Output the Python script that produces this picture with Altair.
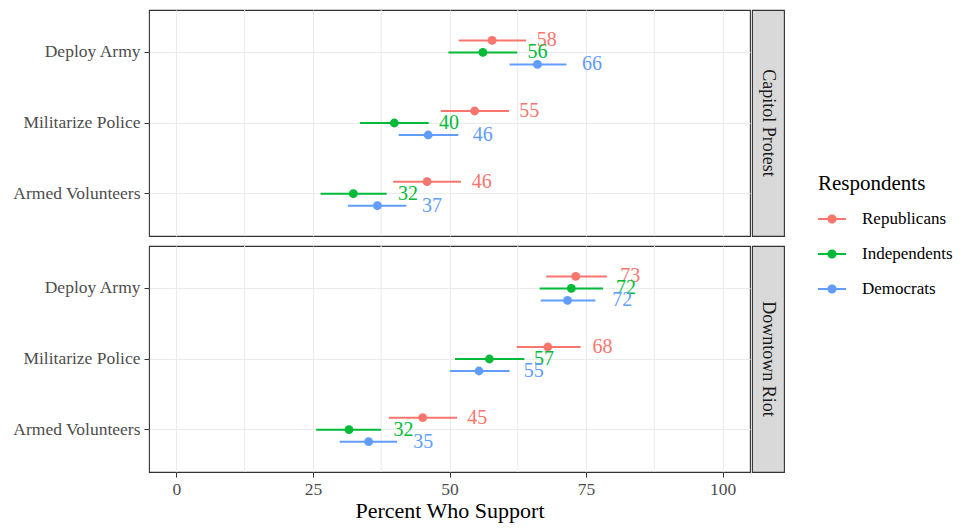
import altair as alt
import pandas as pd

FONT = "Liberation Serif"

items = ["Deploy Army", "Militarize Police", "Armed Volunteers"]
groups = ["Republicans", "Independents", "Democrats"]
colors = ["#F8766D", "#00BA38", "#619CFF"]
scenarios = ["Capitol Protest", "Downtown Riot"]

# Capitol Protest
cp_rep_est = [57.8, 54.6, 45.9]
cp_rep_lo = [51.7, 48.4, 39.7]
cp_rep_hi = [64.0, 60.9, 52.1]
cp_ind_est = [56.1, 39.9, 32.4]
cp_ind_lo = [49.8, 33.6, 26.4]
cp_ind_hi = [62.4, 46.2, 38.5]
cp_dem_est = [66.1, 46.1, 36.8]
cp_dem_lo = [61.0, 40.7, 31.4]
cp_dem_hi = [71.4, 51.6, 42.1]

# Downtown Riot
dr_rep_est = [73.1, 68.0, 45.1]
dr_rep_lo = [67.7, 62.3, 38.9]
dr_rep_hi = [78.8, 74.0, 51.4]
dr_ind_est = [72.3, 57.3, 31.6]
dr_ind_lo = [66.5, 51.0, 25.6]
dr_ind_hi = [78.1, 63.7, 37.5]
dr_dem_est = [71.6, 55.4, 35.2]
dr_dem_lo = [66.7, 50.1, 29.9]
dr_dem_hi = [76.7, 61.0, 40.4]

major_ticks = [0, 25, 50, 75, 100]
minor_ticks = [12.5, 37.5, 62.5, 87.5]
label_nudge = 10

series = {
    "Capitol Protest": {
        "Republicans": (cp_rep_est, cp_rep_lo, cp_rep_hi),
        "Independents": (cp_ind_est, cp_ind_lo, cp_ind_hi),
        "Democrats": (cp_dem_est, cp_dem_lo, cp_dem_hi),
    },
    "Downtown Riot": {
        "Republicans": (dr_rep_est, dr_rep_lo, dr_rep_hi),
        "Independents": (dr_ind_est, dr_ind_lo, dr_ind_hi),
        "Democrats": (dr_dem_est, dr_dem_lo, dr_dem_hi),
    },
}

rows = []
for sc in scenarios:
    for g in groups:
        est, lo, hi = series[sc][g]
        for i, it in enumerate(items):
            rows.append({"scenario": sc, "item": it, "group": g,
                         "est": est[i], "lo": lo[i], "hi": hi[i],
                         "lab": str(int(round(est[i])))})
df = pd.DataFrame(rows)
minor_df = pd.DataFrame({"v": minor_ticks})

PANEL_W = 601
PANEL_H = 226
STRIP_W = 32
BAND = PANEL_H / 3.2          # band step of the discrete y scale
DODGE = 12                    # pixel distance between dodged groups

xscale = alt.Scale(domain=[-5, 105], nice=False, zero=False)
color = alt.Color("group:N", sort=groups,
                  scale=alt.Scale(domain=groups, range=colors),
                  legend=alt.Legend(title="Respondents"))


def x_axis(bottom):
    if bottom:
        return alt.Axis(values=major_ticks, title="Percent Who Support",
                        grid=True, domain=False, ticks=True)
    return alt.Axis(values=major_ticks, title=None, labels=False,
                    ticks=False, domain=False, grid=True)


def panel(sc, bottom):
    d = df[df["scenario"] == sc]
    ax = x_axis(bottom)
    yenc = alt.Y("item:N", sort=items,
                 scale=alt.Scale(domain=items, paddingInner=0, paddingOuter=0.1),
                 axis=alt.Axis(title=None, bandPosition=0.5, grid=True,
                               domain=False, minExtent=140, maxExtent=140))
    yoff = alt.YOffset("group:N", sort=groups,
                       scale=alt.Scale(type="point", domain=groups, padding=0,
                                       range=[BAND / 2 - DODGE, BAND / 2 + DODGE]))
    base = alt.Chart(d)
    minor = alt.Chart(minor_df).mark_rule(color="#EBEBEB", strokeWidth=1).encode(
        x=alt.X("v:Q", scale=xscale, axis=ax)
    )
    bars = base.mark_rule(strokeWidth=2).encode(
        x=alt.X("lo:Q", scale=xscale, axis=ax), x2="hi:Q",
        y=yenc, yOffset=yoff, color=color)
    pts = base.mark_circle(size=78, opacity=1).encode(
        x=alt.X("est:Q", scale=xscale, axis=ax),
        y=yenc, yOffset=yoff, color=color)
    txt = base.transform_calculate(lx=f"datum.est + {label_nudge}").mark_text(
        font=FONT, fontSize=20, baseline="middle", align="center").encode(
        x=alt.X("lx:Q", scale=xscale, axis=ax),
        y=yenc, yOffset=yoff, color=color, text="lab:N")
    return alt.layer(minor, bars, pts, txt).properties(
        width=PANEL_W, height=PANEL_H,
        view=alt.ViewBackground(stroke="#333333", strokeWidth=1.1, fill="white"))


def strip(sc):
    return alt.Chart(pd.DataFrame({"facet": [sc]})).mark_text(
        font=FONT, fontSize=18, color="#1A1A1A", angle=90,
        baseline="middle", align="center").encode(
        x=alt.X("facet:N", axis=None),
        y=alt.Y("facet:N", axis=None),
        text="facet:N").properties(
        width=STRIP_W, height=PANEL_H,
        view=alt.ViewBackground(fill="#D9D9D9", stroke="#333333", strokeWidth=1.1))


row1 = alt.hconcat(panel(scenarios[0], False), strip(scenarios[0]), spacing=0)
row2 = alt.hconcat(panel(scenarios[1], True), strip(scenarios[1]), spacing=0)

legend_symbol = ("M-1,-0.07L1,-0.07L1,0.07L-1,0.07Z "
                 "M0.33,0A0.33,0.33 0 1,1 -0.33,0A0.33,0.33 0 1,1 0.33,0Z")

chart = alt.vconcat(row1, row2, spacing=6).properties(
    padding={"left": 0, "top": 0, "right": 0, "bottom": 0}
).configure(font=FONT).configure_axis(
    labelFont=FONT, titleFont=FONT, labelFontSize=17.5, labelColor="#4D4D4D",
    titleFontSize=22, titleColor="#000000", titleFontWeight="normal",
    tickColor="#333333", tickSize=5, labelPadding=3, titlePadding=3,
    gridColor="#EBEBEB", gridWidth=1.1,
).configure_axisY(labelFontSize=17.5, labelPadding=4).configure_legend(
    orient="none", legendX=669, legendY=163,
    titleFont=FONT, titleFontSize=21, titleFontWeight="normal", titleColor="#000000",
    labelFont=FONT, labelFontSize=17, labelColor="#000000",
    symbolType=legend_symbol, symbolSize=784, symbolStrokeWidth=0,
    symbolOpacity=1, rowPadding=13, titlePadding=11, labelOffset=16, padding=0,
).configure_view(stroke="#333333")

chart.save("out.html", embed_options={"renderer": "svg", "actions": False})
